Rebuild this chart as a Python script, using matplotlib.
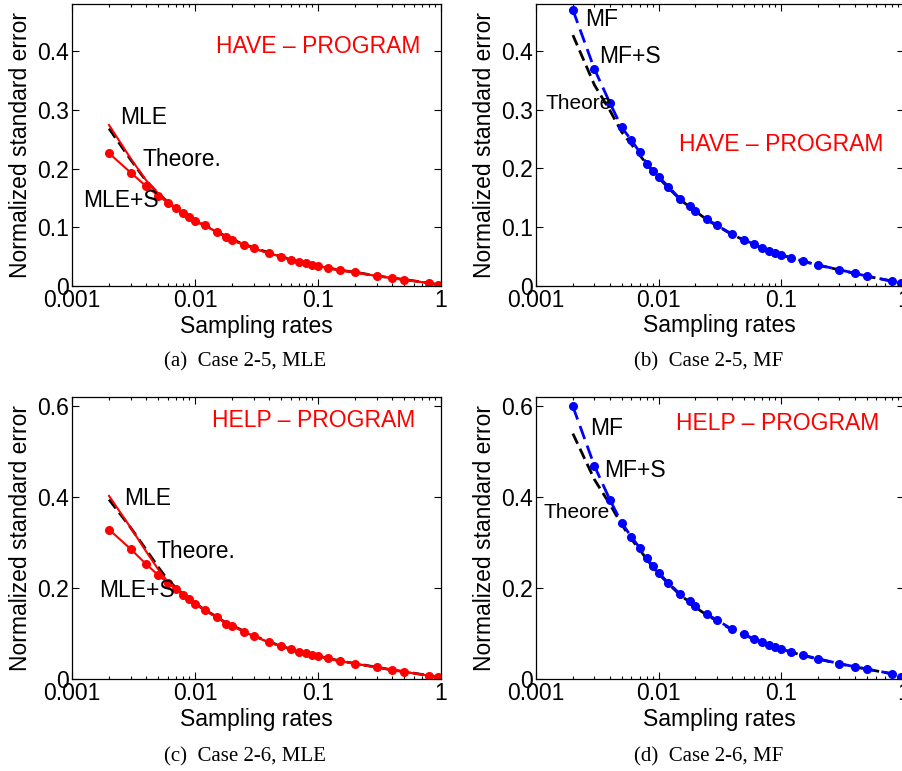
import matplotlib
matplotlib.use("Agg")
import matplotlib.pyplot as plt
from matplotlib.ticker import FixedLocator, FixedFormatter, LogLocator, NullFormatter

plt.rcParams['font.family'] = ['Liberation Sans', 'DejaVu Sans']

# sampling rates used by all four panels
rates = [0.002, 0.003, 0.004, 0.005, 0.006, 0.007, 0.008, 0.009, 0.01, 0.012,
         0.015, 0.018, 0.02, 0.025, 0.03, 0.04, 0.05, 0.06, 0.07, 0.08,
         0.09, 0.1, 0.12, 0.15, 0.2, 0.3, 0.4, 0.5, 0.8, 0.95]

# (a) Case 2-5, MLE
mle_s_a = [0.226, 0.193, 0.170, 0.154, 0.142, 0.132, 0.124, 0.117, 0.110, 0.103,
           0.092, 0.083, 0.078, 0.070, 0.064, 0.0556, 0.050, 0.0443, 0.041, 0.0386,
           0.0363, 0.034, 0.0306, 0.0267, 0.0233, 0.017, 0.0136, 0.0107, 0.005, 0.002]
mle_a = [0.274, 0.217, 0.180, 0.158, 0.143, 0.132, 0.124, 0.117, 0.111, 0.103,
         0.092, 0.083, 0.078, 0.070, 0.064, 0.0556, 0.050, 0.0445, 0.041, 0.0386,
         0.0363, 0.034, 0.0306, 0.0267, 0.0233, 0.017, 0.0136, 0.0107, 0.005, 0.002]
theo_a = [0.268, 0.215, 0.179, 0.158, 0.143, 0.132, 0.124, 0.117, 0.111, 0.103,
          0.093, 0.084, 0.079, 0.071, 0.065, 0.0565, 0.0505, 0.045, 0.0415, 0.039,
          0.0365, 0.0345, 0.031, 0.027, 0.0235, 0.0172, 0.0138, 0.011, 0.0052, 0.0022]

# (b) Case 2-5, MF
mf_b = [0.470, 0.369, 0.312, 0.270, 0.248, 0.228, 0.208, 0.196, 0.186, 0.169,
        0.148, 0.135, 0.128, 0.113, 0.103, 0.0876, 0.0779, 0.071, 0.0642, 0.0596,
        0.0562, 0.0528, 0.0477, 0.042, 0.0353, 0.0273, 0.0211, 0.0165, 0.008, 0.004]
theo_b = [0.427, 0.342, 0.299, 0.262, 0.241, 0.223, 0.207, 0.195, 0.184, 0.167,
          0.147, 0.134, 0.127, 0.112, 0.102, 0.087, 0.0775, 0.0705, 0.064, 0.0592,
          0.0558, 0.0525, 0.0474, 0.0418, 0.035, 0.027, 0.021, 0.0163, 0.0078, 0.0038]

# (c) Case 2-6, MLE
mle_s_c = [0.329, 0.286, 0.253, 0.229, 0.212, 0.198, 0.185, 0.175, 0.166, 0.151,
           0.136, 0.122, 0.117, 0.104, 0.0945, 0.0806, 0.0725, 0.065, 0.060, 0.0564,
           0.0527, 0.0505, 0.0454, 0.0396, 0.0337, 0.0256, 0.0198, 0.016, 0.0073, 0.004]
mle_c = [0.403, 0.333, 0.281, 0.242, 0.214, 0.198, 0.185, 0.175, 0.166, 0.151,
         0.136, 0.122, 0.117, 0.104, 0.0945, 0.0806, 0.0725, 0.065, 0.060, 0.0564,
         0.0527, 0.0505, 0.0454, 0.0396, 0.0337, 0.0256, 0.0198, 0.016, 0.0073, 0.004]
theo_c = [0.395, 0.333, 0.285, 0.247, 0.218, 0.201, 0.187, 0.176, 0.167, 0.152,
          0.137, 0.123, 0.118, 0.105, 0.0955, 0.0815, 0.073, 0.0655, 0.0605, 0.0568,
          0.053, 0.0508, 0.0457, 0.040, 0.034, 0.026, 0.020, 0.0162, 0.0075, 0.0042]

# (d) Case 2-6, MF
mf_d = [0.600, 0.469, 0.395, 0.344, 0.313, 0.289, 0.267, 0.248, 0.234, 0.212,
        0.187, 0.171, 0.160, 0.142, 0.130, 0.109, 0.098, 0.0886, 0.0813, 0.0755,
        0.0703, 0.066, 0.060, 0.0527, 0.0447, 0.0337, 0.0271, 0.022, 0.0117, 0.0044]
theo_d = [0.540, 0.439, 0.385, 0.340, 0.308, 0.285, 0.264, 0.246, 0.232, 0.210,
          0.185, 0.169, 0.158, 0.140, 0.128, 0.108, 0.097, 0.088, 0.081, 0.075,
          0.070, 0.0655, 0.0595, 0.052, 0.044, 0.0333, 0.0268, 0.0218, 0.0115, 0.0042]

FS = 16.5
RED = '#ff0000'
BLUE = '#0000ff'


def setup_axes(ax, ymax, yticks):
    ax.set_xscale('log')
    ax.set_xlim(0.001, 1)
    ax.set_ylim(0, ymax)
    ax.xaxis.set_major_locator(FixedLocator([0.001, 0.01, 0.1, 1]))
    ax.xaxis.set_major_formatter(FixedFormatter(['0.001', '0.01', '0.1', '1']))
    ax.xaxis.set_minor_locator(LogLocator(base=10, subs=range(2, 10)))
    ax.xaxis.set_minor_formatter(NullFormatter())
    ax.set_yticks(yticks)
    ax.set_yticklabels(['%g' % t for t in yticks])
    ax.tick_params(which='both', direction='in', top=True, right=True,
                   labelsize=FS, width=0.8)
    ax.tick_params(which='major', length=5, pad=2.5)
    ax.tick_params(which='minor', length=2.5)
    for s in ax.spines.values():
        s.set_linewidth(0.9)
    ax.set_xlabel('Sampling rates', fontsize=FS, labelpad=1.5)
    ax.set_ylabel('Normalized standard error', fontsize=FS, labelpad=3)


fig = plt.figure(figsize=(9.02, 7.71), dpi=100)
W, H = 902.0, 771.0

def add_ax(left, top, right, bottom):
    return fig.add_axes([left / W, 1 - bottom / H, (right - left) / W, (bottom - top) / H])

ax_a = add_ax(72, 4, 441, 286)
ax_b = add_ax(536, 4, 903.5, 285.7)
ax_c = add_ax(72, 397.3, 441, 679)
ax_d = add_ax(536, 397.3, 903.5, 679)

# (a)
ax_a.plot(rates, theo_a, color='black', lw=2.0, ls=(0, (4, 2)))
ax_a.plot(rates, mle_a, color=RED, lw=1.5)
ax_a.plot(rates, mle_s_a, color=RED, lw=1.5, marker='o', ms=5.5)
setup_axes(ax_a, 0.48, [0, 0.1, 0.2, 0.3, 0.4])
ax_a.text(0.00245, 0.286, 'MLE', fontsize=FS, va='center')
ax_a.text(0.00371, 0.216, 'Theore.', fontsize=FS, va='center')
ax_a.text(0.00123, 0.146, 'MLE+S', fontsize=FS, va='center')
ax_a.text(0.0148, 0.407, 'HAVE \u2013 PROGRAM', fontsize=FS, va='center', color=RED)

# (b)
ax_b.plot(rates, theo_b, color='black', lw=2.0, ls=(0, (4, 2)))
ax_b.plot(rates, mf_b, color=BLUE, lw=2.0, ls=(0, (5, 2.5)), marker='o', ms=5.5)
setup_axes(ax_b, 0.48, [0, 0.1, 0.2, 0.3, 0.4])
ax_b.text(0.00251, 0.454, 'MF', fontsize=FS, va='center')
ax_b.text(0.00326, 0.391, 'MF+S', fontsize=FS, va='center')
ax_b.text(0.0012, 0.311, 'Theore', fontsize=15, va='center')
ax_b.text(0.0147, 0.240, 'HAVE \u2013 PROGRAM', fontsize=FS, va='center', color=RED)

# (c)
ax_c.plot(rates, theo_c, color='black', lw=2.0, ls=(0, (4, 2)))
ax_c.plot(rates, mle_c, color=RED, lw=1.5)
ax_c.plot(rates, mle_s_c, color=RED, lw=1.5, marker='o', ms=5.5)
setup_axes(ax_c, 0.62, [0, 0.2, 0.4, 0.6])
ax_c.text(0.00265, 0.397, 'MLE', fontsize=FS, va='center')
ax_c.text(0.00489, 0.281, 'Theore.', fontsize=FS, va='center')
ax_c.text(0.00166, 0.194, 'MLE+S', fontsize=FS, va='center')
ax_c.text(0.0138, 0.568, 'HELP \u2013 PROGRAM', fontsize=FS, va='center', color=RED)

# (d)
ax_d.plot(rates, theo_d, color='black', lw=2.0, ls=(0, (4, 2)))
ax_d.plot(rates, mf_d, color=BLUE, lw=2.0, ls=(0, (5, 2.5)), marker='o', ms=5.5)
setup_axes(ax_d, 0.62, [0, 0.2, 0.4, 0.6])
ax_d.text(0.00279, 0.551, 'MF', fontsize=FS, va='center')
ax_d.text(0.0036, 0.459, 'MF+S', fontsize=FS, va='center')
ax_d.text(0.00115, 0.3655, 'Theore', fontsize=15, va='center')
ax_d.text(0.014, 0.563, 'HELP \u2013 PROGRAM', fontsize=FS, va='center', color=RED)

# captions under each panel
cap = dict(fontsize=15, ha='center', va='center', family=['Liberation Serif', 'DejaVu Serif'])
fig.text(245 / W, 1 - 362 / H, '(a)  Case 2-5, MLE', **cap)
fig.text(709 / W, 1 - 362 / H, '(b)  Case 2-5, MF', **cap)
fig.text(245 / W, 1 - 757 / H, '(c)  Case 2-6, MLE', **cap)
fig.text(709 / W, 1 - 757 / H, '(d)  Case 2-6, MF', **cap)

fig.savefig('out.png', dpi=100)
